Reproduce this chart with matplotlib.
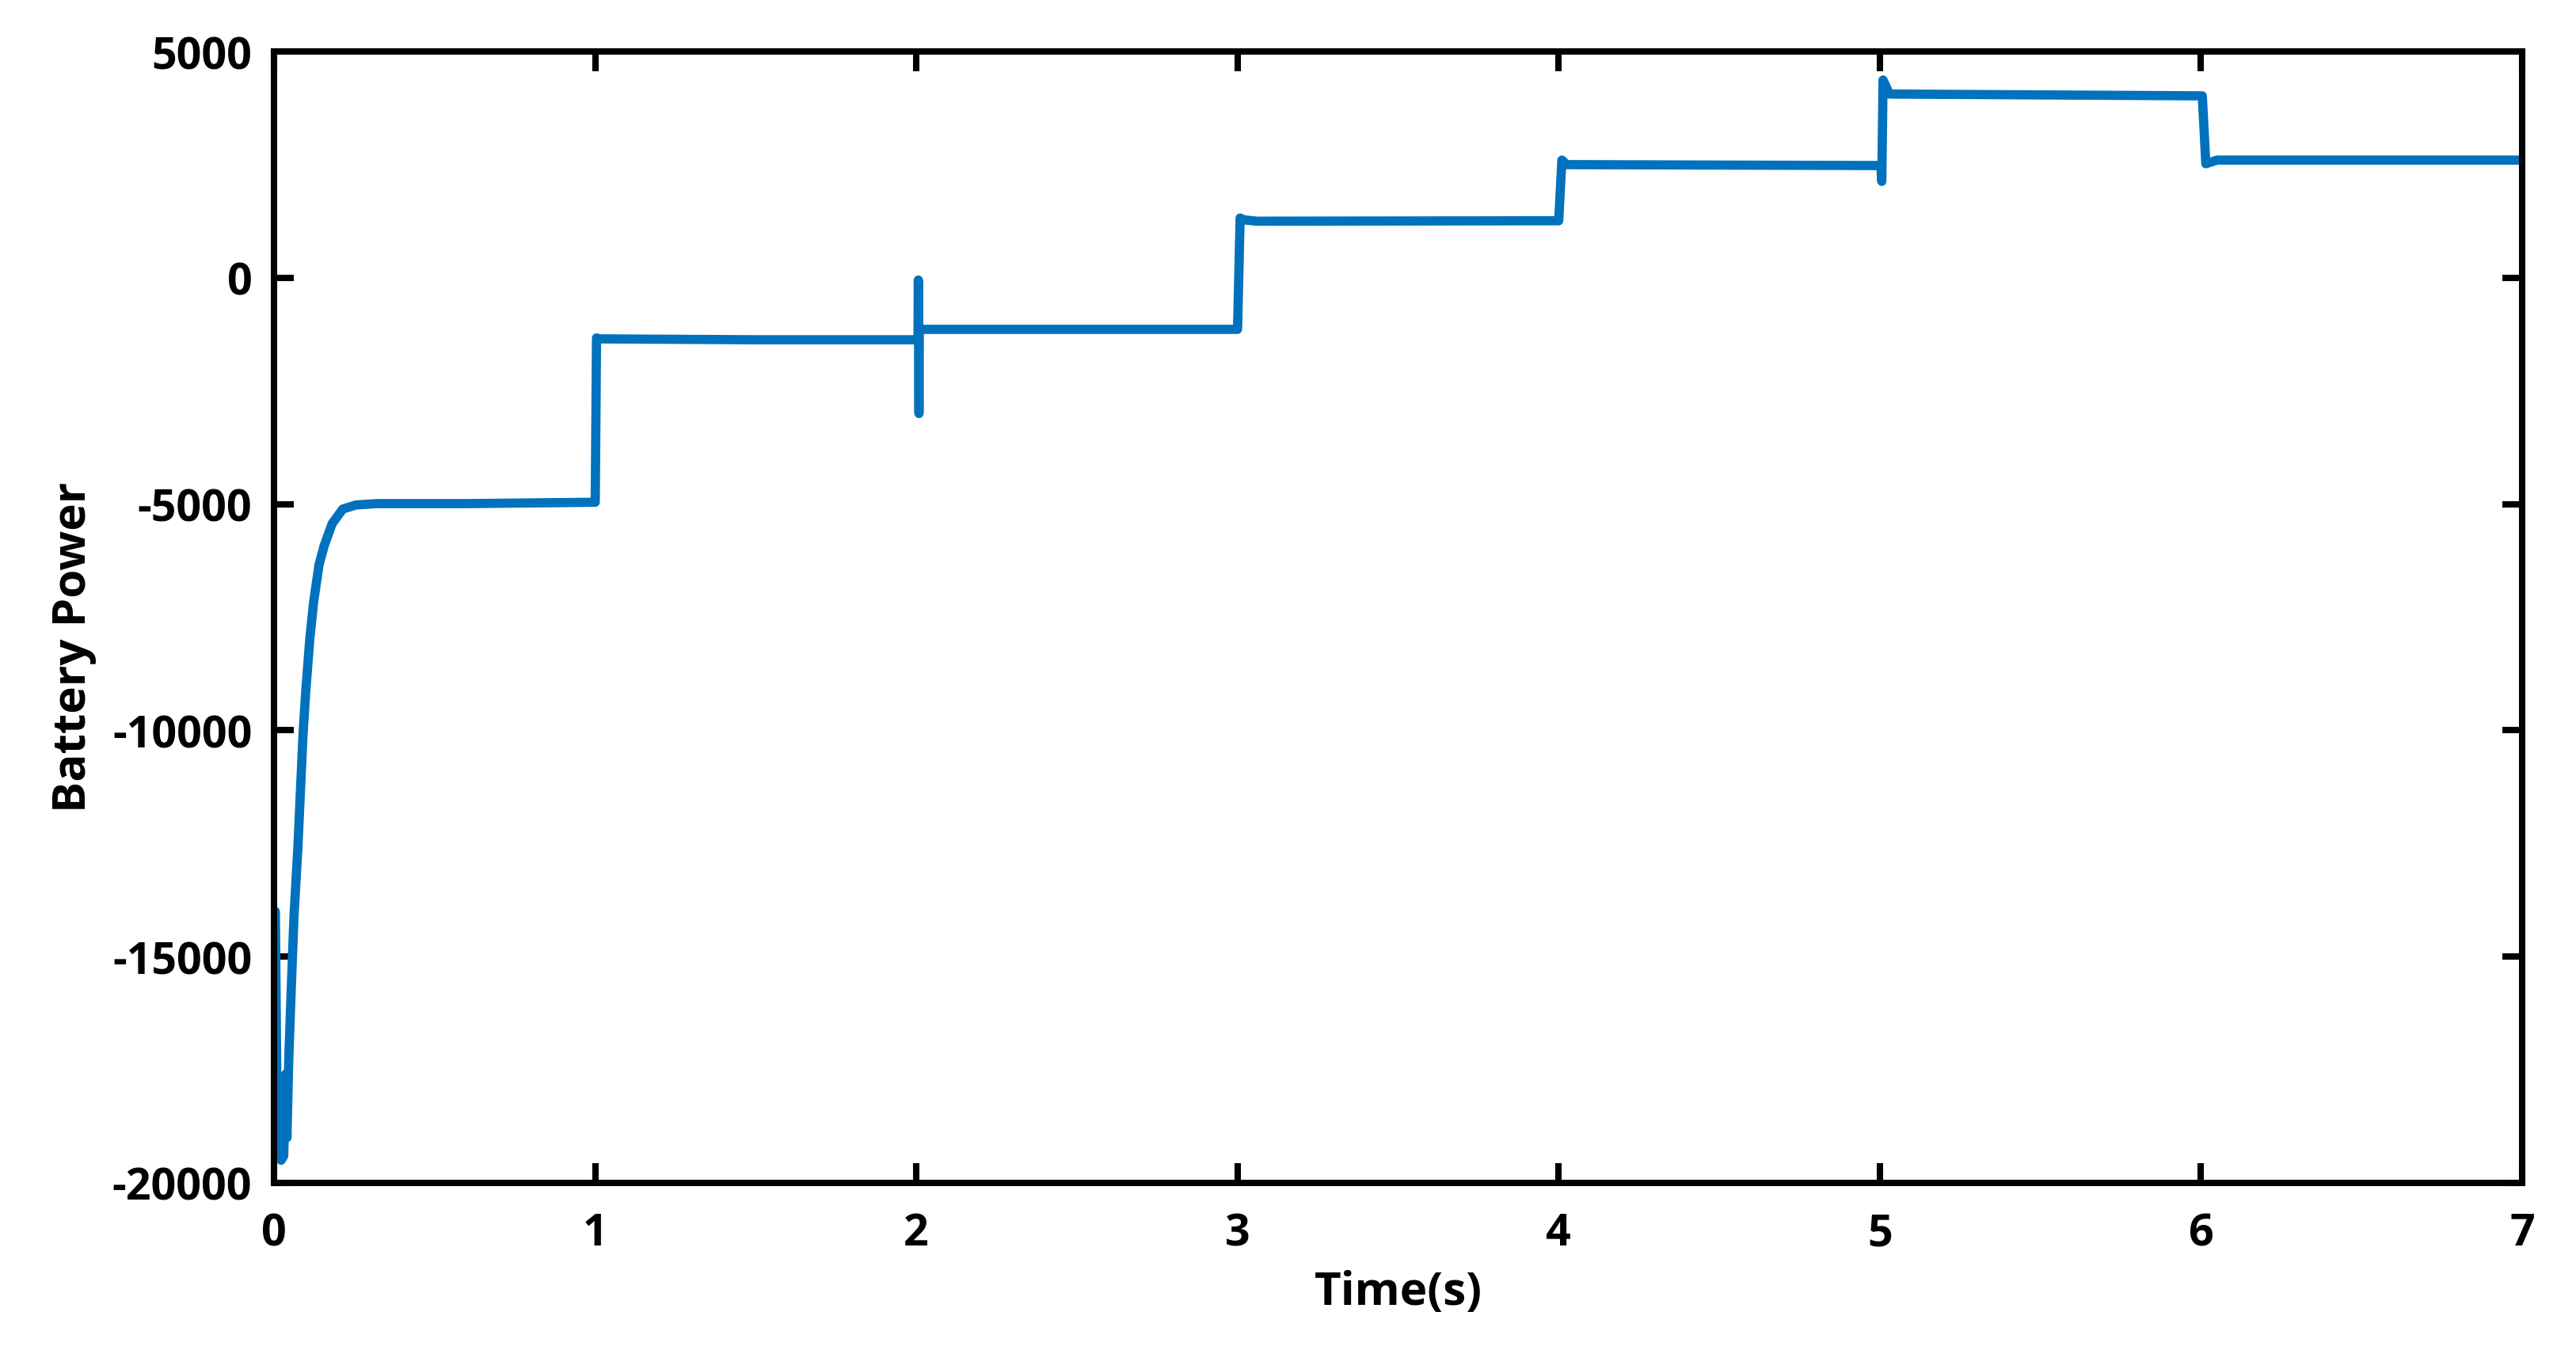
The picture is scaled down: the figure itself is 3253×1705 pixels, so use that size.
import numpy as np
import matplotlib.pyplot as plt

plt.rcParams['font.family'] = ['Open Sans', 'DejaVu Sans']
plt.rcParams['axes.unicode_minus'] = False

# battery power trace (time in s, power)
time_s = [0.0, 0.004, 0.010, 0.022, 0.030, 0.036, 0.040, 0.046, 0.053, 0.062,
          0.074, 0.082, 0.090, 0.099, 0.111, 0.123, 0.140, 0.156, 0.181, 0.214,
          0.255, 0.320, 0.600, 1.000,
          1.004, 1.012, 1.500, 2.005, 2.006, 2.008, 2.009, 2.500, 3.000,
          3.008, 3.020, 3.060, 4.000,
          4.010, 4.025, 4.500, 5.003, 5.006, 5.010, 5.030, 6.000,
          6.004, 6.015, 6.050, 7.000]
power = [-14000, -14000, -19000, -19500, -19400, -17600, -19000, -17200, -15800, -14100,
         -12600, -11350, -10100, -9100, -8000, -7170, -6340, -5920, -5430, -5110,
         -5020, -4990, -4990, -4960,
         -1330, -1350, -1370, -1370, -50, -3000, -1140, -1140, -1140,
         1320, 1280, 1250, 1260,
         2600, 2500, 2490, 2480, 2130, 4370, 4060, 4020,
         4020, 2520, 2600, 2600]

xticks = [0, 1, 2, 3, 4, 5, 6, 7]
yticks = [-20000, -15000, -10000, -5000, 0, 5000]

fig = plt.figure(figsize=(16.265, 8.53), dpi=200)
ax = fig.add_axes([0.1064, 0.1237, 0.8727, 0.8376])

ax.plot(time_s, power, color='#0072BD', linewidth=4.2, solid_joinstyle='round')

ax.set_xlim(0, 7)
ax.set_ylim(-20000, 5000)
ax.set_xticks(xticks)
ax.set_yticks(yticks)
ax.set_xticklabels([str(v) for v in xticks])
ax.set_yticklabels([str(v) for v in yticks])

for s in ax.spines.values():
    s.set_linewidth(2.9)
ax.tick_params(direction='in', length=9, width=2.9, top=True, right=True,
               labelsize=20)
ax.tick_params(axis='x', pad=13)
ax.tick_params(axis='y', pad=10)
for lab in ax.get_xticklabels() + ax.get_yticklabels():
    lab.set_fontweight('bold')

ax.set_xlabel('Time(s)', fontsize=21, fontweight='bold')
ax.set_ylabel('Battery Power', fontsize=21, fontweight='bold')
ax.xaxis.set_label_coords(0.5, -0.076)
ax.yaxis.set_label_coords(-0.079, 0.474)

fig.savefig('out.png', dpi=200)
